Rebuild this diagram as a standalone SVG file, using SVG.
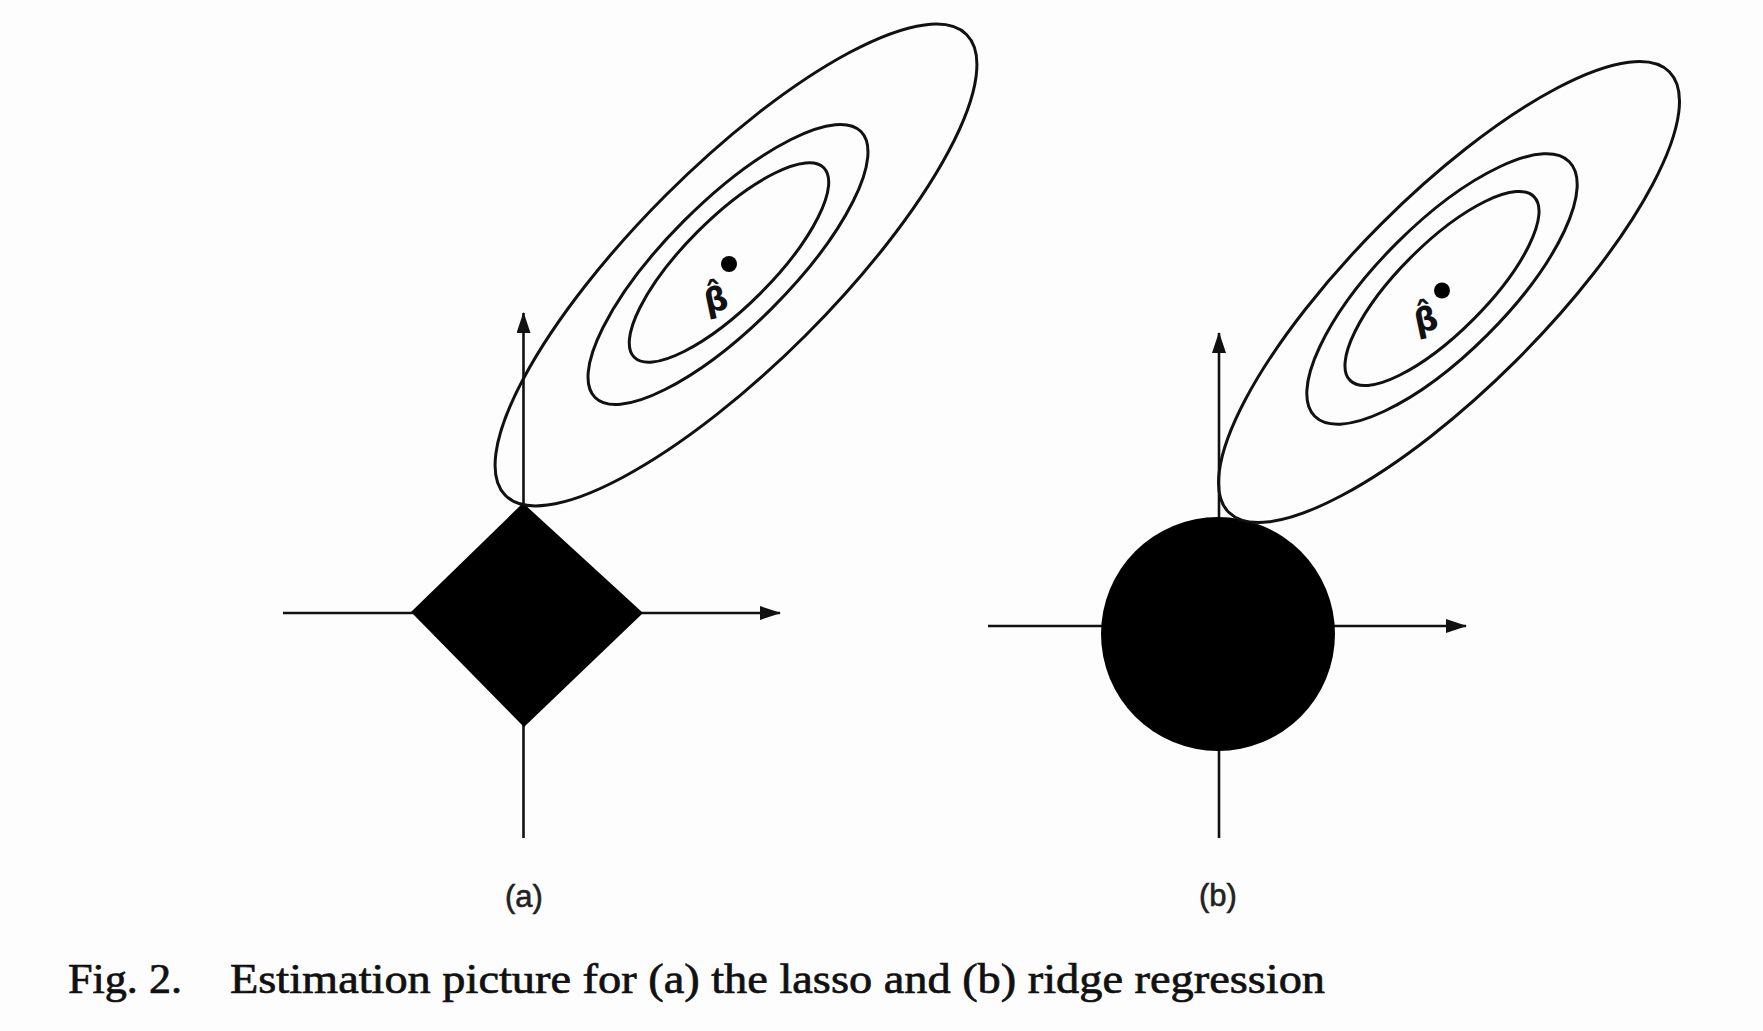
<svg xmlns="http://www.w3.org/2000/svg" width="1763" height="1031" viewBox="0 0 1763 1031">
  <defs>
    <marker id="arrow" markerUnits="userSpaceOnUse" markerWidth="22" markerHeight="16" refX="20" refY="7" orient="auto">
      <path d="M0,0 L21,7 L0,14 Z" fill="#111"/>
    </marker>
    <style>
      .axis { stroke: #111; stroke-width: 2.6; fill: none; }
      .contour { stroke: #111; stroke-width: 3; fill: none; }
      .region { fill: #000; stroke: none; }
      .dot { fill: #000; }
      .beta { font-family: "DejaVu Sans", sans-serif; font-size: 33px; font-weight: bold; fill: #111; }
      .sub { font-family: "Liberation Sans", Arial, sans-serif; font-size: 31px; fill: #222; stroke: #222; stroke-width: 0.6; }
      .caption { font-family: "Liberation Serif", "Times New Roman", serif; font-size: 42px; fill: #111; stroke: #111; stroke-width: 0.7; }
    </style>
  </defs>
  <rect width="1763" height="1031" fill="#fdfdfd"/>

  <g id="connectors">
    <path class="axis" d="M283,613 L780,613" marker-end="url(#arrow)"/>
    <path class="axis" d="M523.5,838 L523.5,313" marker-end="url(#arrow)"/>
    <path class="axis" d="M988,626 L1466,626" marker-end="url(#arrow)"/>
    <path class="axis" d="M1219,838 L1219,333" marker-end="url(#arrow)"/>
  </g>

  <g id="lasso-region">
    <polygon class="region" points="523,503 643,613 524,727 411,612"/>
  </g>
  <g id="ridge-region">
    <circle class="region" cx="1218" cy="634" r="117"/>
  </g>

  <g id="contours-a">
    <ellipse class="contour" cx="736" cy="265" rx="326" ry="99" transform="rotate(-45 736 265)"/>
    <ellipse class="contour" cx="728" cy="264.5" rx="188" ry="62" transform="rotate(-45 728 264.5)"/>
    <ellipse class="contour" cx="729" cy="262.5" rx="134" ry="44" transform="rotate(-45 729 262.5)"/>
  </g>
  <g id="contours-b">
    <ellipse class="contour" cx="1449" cy="292" rx="311.5" ry="96" transform="rotate(-45 1449 292)"/>
    <ellipse class="contour" cx="1442" cy="289" rx="180" ry="64.5" transform="rotate(-45 1442 289)"/>
    <ellipse class="contour" cx="1442" cy="288.5" rx="130" ry="44" transform="rotate(-45 1442 288.5)"/>
  </g>

  <g id="beta-a">
    <circle class="dot" cx="729" cy="264" r="8"/>
    <text class="beta" x="716" y="311" text-anchor="middle" transform="rotate(-12 716 300)">β̂</text>
  </g>
  <g id="beta-b">
    <circle class="dot" cx="1442" cy="290.5" r="8"/>
    <text class="beta" x="1426" y="331" text-anchor="middle" transform="rotate(-12 1426 320)">β̂</text>
  </g>

  <g id="label-a"><text class="sub" x="524" y="907" text-anchor="middle">(a)</text></g>
  <g id="label-b"><text class="sub" x="1218" y="906" text-anchor="middle">(b)</text></g>

  <g id="caption">
    <text class="caption" x="68" y="993" textLength="114" lengthAdjust="spacingAndGlyphs">Fig. 2.</text>
    <text class="caption" x="230" y="993" textLength="1095" lengthAdjust="spacingAndGlyphs">Estimation picture for (a) the lasso and (b) ridge regression</text>
  </g>
</svg>
